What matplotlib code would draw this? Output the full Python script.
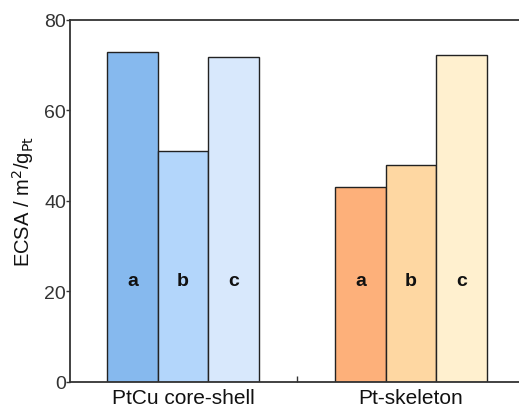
import matplotlib
matplotlib.use("Agg")
import matplotlib.pyplot as plt

plt.rcParams["font.family"] = ["Liberation Sans", "DejaVu Sans"]

groups = ["PtCu core-shell", "Pt-skeleton"]
samples = ["a", "b", "c"]
ptcu_values = [72.8, 51.0, 71.7]
skeleton_values = [43.1, 48.0, 72.1]
ptcu_colors = ["#86b9ee", "#b3d6fb", "#d8e8fc"]
skeleton_colors = ["#fdb07a", "#fed7a2", "#fff0cf"]

fig = plt.figure(figsize=(5.19, 4.14), dpi=100)
ax = fig.add_axes([0.135, 0.0756, 0.865, 0.8744])

width = 0.222
offsets = [-width, 0, width]
for gi, (vals, cols) in enumerate([(ptcu_values, ptcu_colors),
                                   (skeleton_values, skeleton_colors)]):
    for off, v, c, s in zip(offsets, vals, cols, samples):
        ax.bar(gi + off, v, width=width, color=c, edgecolor="#222222",
               linewidth=1.0)
        ax.text(gi + off, 22.3, s, ha="center", va="center",
                fontsize=14, fontweight="bold", color="#111111")

ax.set_xlim(-0.496, 1.474)
ax.set_ylim(0, 80)
ax.set_yticks([0, 20, 40, 60, 80])
ax.set_xticks([0.5])
ax.set_xticklabels([""])
ax.tick_params(axis="x", direction="in", length=4, width=1, color="#333333")
ax.tick_params(axis="y", direction="out", length=3, width=1,
               color="#333333", labelsize=14, labelcolor="#333333", pad=0)
for gi, g in enumerate(groups):
    ax.text(gi, -3.4, g, ha="center", va="center", fontsize=15,
            color="#111111", transform=ax.transData, clip_on=False)

ax.spines["right"].set_visible(False)
for sp in ["left", "top", "bottom"]:
    ax.spines[sp].set_linewidth(1.3)
    ax.spines[sp].set_color("#333333")

ax.set_ylabel("ECSA / m$^2$/g$_{\\mathrm{Pt}}$", fontsize=14.5, color="#111111",
              labelpad=6)

fig.savefig("out.png", dpi=100)
